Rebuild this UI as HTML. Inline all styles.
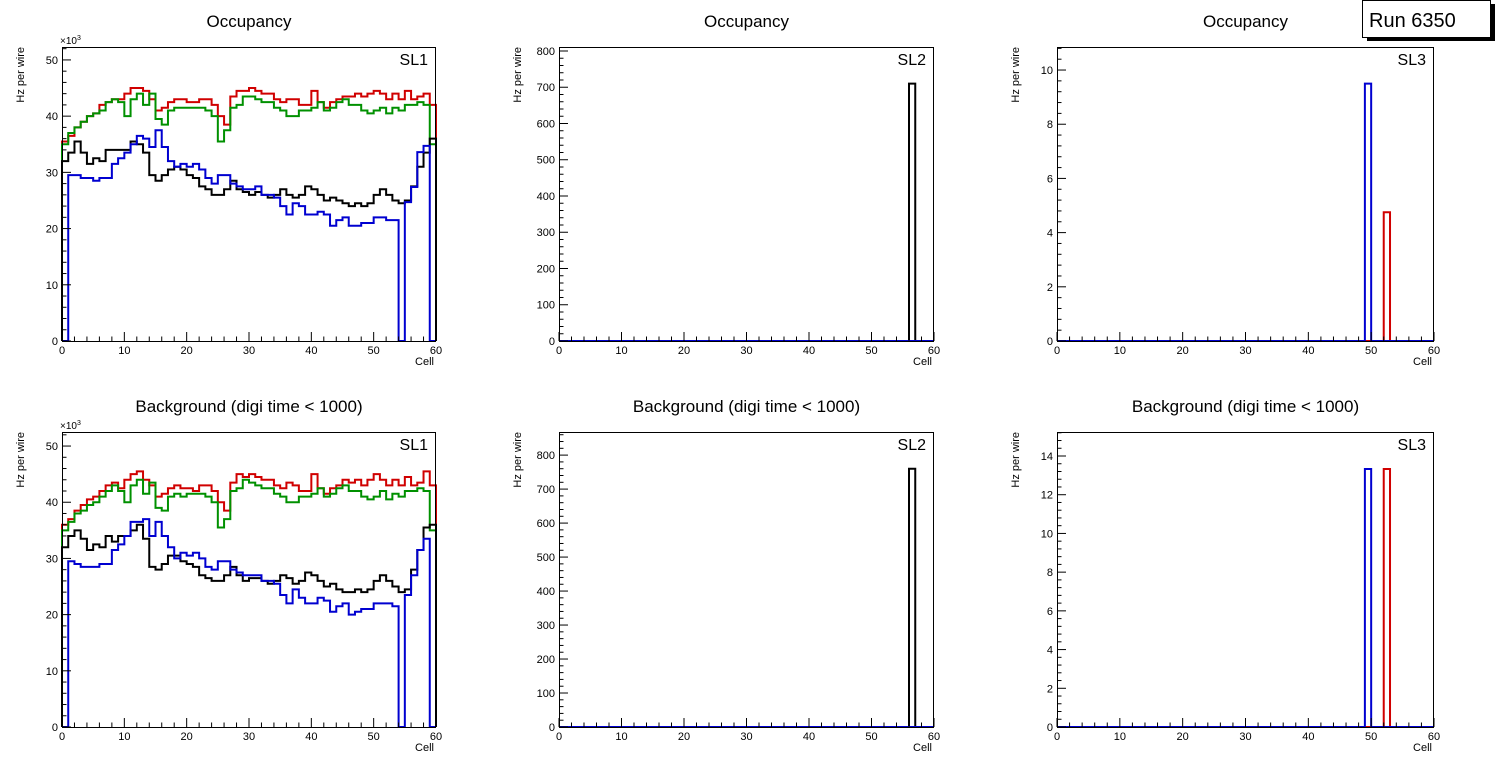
<!DOCTYPE html>
<html><head><meta charset="utf-8"><style>
html,body{margin:0;padding:0;background:#fff;}
svg{display:block;font-family:"Liberation Sans",Arial,sans-serif;}
</style></head><body>
<svg id="c" width="1496" height="772" viewBox="0 0 1496 772" xmlns="http://www.w3.org/2000/svg">
<g>
<rect x="1367" y="4" width="128" height="37" fill="#000"/>
<rect x="1362.5" y="0.5" width="128" height="37" fill="#fff" stroke="#000"/>
<text x="1369" y="27" font-size="20">Run 6350</text>
</g>
</svg>
<script>
// ---- data (kHz for SL1; Hz otherwise) ----
const cells = Array.from({length:60},(_,i)=>i);
const occSL1Red = [35.5,36.5,38,39,40,40.5,42,42.5,43,43,44,45,45,44.5,43,41,41.5,42.5,43,43,42.5,42.5,43,43,42,40,38.5,43.5,44.5,44.5,45,44.5,44,44,43,42.5,43,43,42,42,44.5,42.5,41.5,42.5,43,43.5,43.5,44,43.5,44,44.5,44,43,44,43,44.5,43,43.5,44,42];
const occSL1Green = [35,37,38,39,40,40.5,41,42.5,43,42.5,40,43,44,42,44,39.5,38.5,41,41.5,41.5,41.5,41.5,41.5,41,40,35.5,37.5,41.5,42,43.5,43.5,43,42.5,42.5,41.5,41,40,40,41,41,41.5,42.5,41,41.5,42.5,43,42,42,41,40.5,41,41.5,40.5,41.5,41,42,42,42.5,42,35];
const occSL1Black = [32,33.5,35.5,33.5,31.5,32.5,32,34,34,34,34,35.5,35,33.5,29.5,28.5,29.5,30.5,31,30.5,29.5,29,27.5,27,26,26,27,28.5,27,26.5,26,26.5,26,25.5,26,27,26,25.5,26,27.5,27,26,25,25.5,25,24.5,24,24.5,24,24.5,26,27,26,25,24.5,25,27.5,31,33.5,36];
const occSL1Blue = [0,29.5,29.5,29,29,28.5,29,29,31.5,32.5,33.5,35,36.5,36,34.5,37.5,34.5,32,31,31.5,31,31.5,30.5,29,28,29.5,29.5,28,27.5,27,27,27.5,26,26,25.5,24,22.5,24.5,24,22.5,22.5,23,22.5,20.5,21.5,22,20.5,20.5,21,21,22,22,21.5,21.5,0,24.7,27.4,33.6,34.7,0];
const bkgSL1Red = [36,37,38.5,39.5,40.5,41,42,43,43.5,42.5,44,45,45.5,44,43,41,41.5,42.5,43,42.5,42.5,42,43,43,42,40,38.5,43.5,45,44.5,45,44.5,44,44,43,42.5,43.5,43,42,42,45,42.5,41.5,42.5,43,44,43.5,44,43,44,45,44,43,44,43,44.5,43,43.5,45.5,43];
const bkgSL1Green = [35,36.5,38,38.5,39.5,40,41,42,43,42,40,43,44,41.5,43.5,39,38.5,41,41.5,41,41.5,41.5,41.5,41,40,35.5,37,42,42.5,44,43.5,43,42.5,42.5,41.5,41,40,40,41,41,41.5,42.5,41,41.5,42.5,43,42,42,41,40.5,41,42,40.5,41.5,41,42,42,42.5,42,35];
const bkgSL1Black = [32,34,35,33.5,31.5,32.5,32,34,33,34,34,35,36,33.5,28.5,28,29,30.5,30.5,29.5,29,28.5,27,26.5,26,26,27,28.5,27,26,26.5,26.5,26,25.5,26,27,26.5,25.5,26,27.5,27,26,25,25.5,24.5,24,24,24.5,24,24.5,26,27,26,25,24,24.5,28,31.5,35.5,36];
const bkgSL1Blue = [0,29.5,29,28.5,28.5,28.5,29,29,31.5,32.5,34,36.5,36.5,37,34,36.5,34,32,30,31,30.5,31,30,28.5,28,29.5,29.5,28,27.5,27,27,27,26,26,25.5,23.5,22,24.5,23,22,22,23,22.5,20.5,21.5,22,20,20.5,21,21,22,22,22,21.5,0,23.5,27,31.5,33.5,0];
const sl2TopBlack = {bin:56, value:710};
const sl2BotBlack = {bin:56, value:760};
const sl3TopBlue = {bin:49, value:9.5};
const sl3TopRed = {bin:52, value:4.75};
const sl3BotBlue = {bin:49, value:13.33};
const sl3BotRed = {bin:52, value:13.33};
const xTicks = [0,10,20,30,40,50,60];
const ytSL1 = [0,10,20,30,40,50];
const ytSL2top = [0,100,200,300,400,500,600,700,800];
const ytSL3top = [0,2,4,6,8,10];
const ytSL3bot = [0,2,4,6,8,10,12,14];

const NS="http://www.w3.org/2000/svg";
const svg=document.getElementById('c');
function mk(tag,attrs,parent){const e=document.createElementNS(NS,tag);for(const k in attrs)e.setAttribute(k,attrs[k]);(parent||svg).appendChild(e);return e;}

function single(bin,val){const a=new Array(60).fill(0);a[bin]=val;return a;}

const panels=[
 {name:'occupancy-sl1',x0:62,x1:436,y0:47,y1:341,ymax:52.3,yt:ytSL1,minor:2,title:'Occupancy',sl:'SL1',exp:true,
  series:[['red',occSL1Red,'#d00000'],['green',occSL1Green,'#009000'],['black',occSL1Black,'#000'],['blue',occSL1Blue,'#0000d0']]},
 {name:'occupancy-sl2',x0:559,x1:934,y0:47,y1:341,ymax:811,yt:ytSL2top,minor:20,title:'Occupancy',sl:'SL2',
  series:[['black',single(sl2TopBlack.bin,sl2TopBlack.value),'#000'],['blue',new Array(60).fill(0),'#0000d0']]},
 {name:'occupancy-sl3',x0:1057,x1:1434,y0:47,y1:341,ymax:10.85,yt:ytSL3top,minor:0.4,title:'Occupancy',sl:'SL3',
  series:[['red',single(sl3TopRed.bin,sl3TopRed.value),'#d00000'],['blue',single(sl3TopBlue.bin,sl3TopBlue.value),'#0000d0']]},
 {name:'background-sl1',x0:62,x1:436,y0:432,y1:727,ymax:52.5,yt:ytSL1,minor:2,title:'Background (digi time < 1000)',sl:'SL1',exp:true,
  series:[['red',bkgSL1Red,'#d00000'],['green',bkgSL1Green,'#009000'],['black',bkgSL1Black,'#000'],['blue',bkgSL1Blue,'#0000d0']]},
 {name:'background-sl2',x0:559,x1:934,y0:432,y1:727,ymax:868,yt:ytSL2top,minor:20,title:'Background (digi time < 1000)',sl:'SL2',
  series:[['black',single(sl2BotBlack.bin,sl2BotBlack.value),'#000'],['blue',new Array(60).fill(0),'#0000d0']]},
 {name:'background-sl3',x0:1057,x1:1434,y0:432,y1:727,ymax:15.24,yt:ytSL3bot,minor:0.4,title:'Background (digi time < 1000)',sl:'SL3',
  series:[['red',single(sl3BotRed.bin,sl3BotRed.value),'#d00000'],['blue',single(sl3BotBlue.bin,sl3BotBlue.value),'#0000d0']]},
];

panels.forEach(p=>{
  const g=mk('g',{});
  
  
  const sx=v=>p.x0+(v/60)*(p.x1-p.x0);
  const sy=v=>p.y1-(v/p.ymax)*(p.y1-p.y0);
  const cx=(p.x0+p.x1)/2;
  const t=mk('text',{x:cx,y:p.y0-20,'font-size':17,'text-anchor':'middle'},g);t.textContent=p.title;
  
  
  p.series.forEach(s=>{
    const vals=s[1];let d='M'+sx(0)+','+sy(0);
    cells.forEach(i=>{d+=' L'+sx(i)+','+sy(vals[i])+' L'+sx(i+1)+','+sy(vals[i]);});
    d+=' L'+sx(60)+','+sy(0);
    const pa=mk('path',{d:d,fill:'none',stroke:s[2],'stroke-width':2},g);
    
    
  });
  const fr=mk('rect',{x:p.x0+0.5,y:p.y0+0.5,width:p.x1-p.x0-1,height:p.y1-p.y0,fill:'none',stroke:'#000','stroke-width':1},g);
  
  
  for(let v=0;v<=60;v+=2){const maj=v%10===0;mk('line',{x1:sx(v),x2:sx(v),y1:p.y1,y2:p.y1-(maj?9:4.5),stroke:'#000'},g);}
  xTicks.forEach(v=>{const tx=mk('text',{x:sx(v),y:p.y1+13,'font-size':11,'text-anchor':'middle'},g);tx.textContent=v;
    
    });
  const xl=mk('text',{x:p.x1-2,y:p.y1+24,'font-size':11,'text-anchor':'end'},g);xl.textContent='Cell';
  
  
  const step=p.yt[1]-p.yt[0];
  for(let v=0;v<=p.ymax+1e-9;v+=p.minor){const r=Math.abs(v/step-Math.round(v/step))<1e-6;mk('line',{x1:p.x0,x2:p.x0+(r?9:4.5),y1:sy(v),y2:sy(v),stroke:'#000'},g);}
  p.yt.forEach(v=>{const ty=mk('text',{x:p.x0-4,y:sy(v)+4,'font-size':11,'text-anchor':'end'},g);ty.textContent=v;
    
    });
  const yl=mk('text',{x:0,y:0,'font-size':11,'text-anchor':'end',transform:'translate('+(p.x0-38)+','+p.y0+') rotate(-90)'},g);yl.textContent='Hz per wire';
  
  
  if(p.exp){const ex=mk('text',{x:p.x0-2,y:p.y0-3,'font-size':10},g);ex.innerHTML='×10<tspan dy="-4" font-size="7">3</tspan>';
    
    }
  const sl=mk('text',{x:p.x1-8,y:p.y0+18,'font-size':16,'text-anchor':'end'},g);sl.textContent=p.sl;
  
  
});
</script>
</body></html>
